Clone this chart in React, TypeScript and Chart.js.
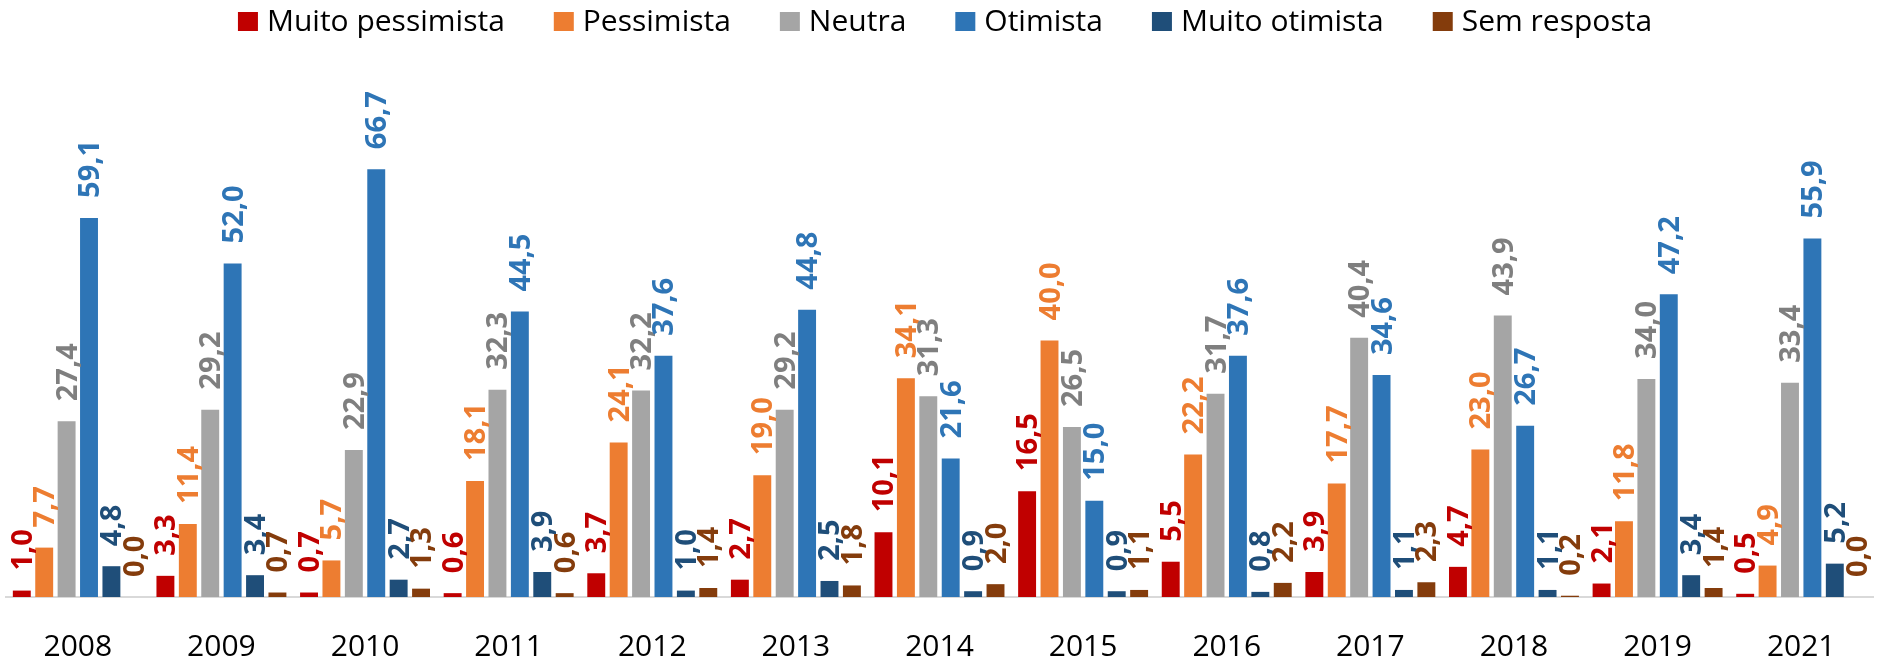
import React, { useEffect, useRef } from "react";
import { Chart, registerables } from "chart.js";

Chart.register(...registerables);

const categories = ["2008", "2009", "2010", "2011", "2012", "2013", "2014", "2015", "2016", "2017", "2018", "2019", "2021"];
const seriesLabels = ["Muito pessimista", "Pessimista", "Neutra", "Otimista", "Muito otimista", "Sem resposta"];
const muitoPessimista = [1.0, 3.3, 0.7, 0.6, 3.7, 2.7, 10.1, 16.5, 5.5, 3.9, 4.7, 2.1, 0.5];
const pessimista = [7.7, 11.4, 5.7, 18.1, 24.1, 19.0, 34.1, 40.0, 22.2, 17.7, 23.0, 11.8, 4.9];
const neutra = [27.4, 29.2, 22.9, 32.3, 32.2, 29.2, 31.3, 26.5, 31.7, 40.4, 43.9, 34.0, 33.4];
const otimista = [59.1, 52.0, 66.7, 44.5, 37.6, 44.8, 21.6, 15.0, 37.6, 34.6, 26.7, 47.2, 55.9];
const muitoOtimista = [4.8, 3.4, 2.7, 3.9, 1.0, 2.5, 0.9, 0.9, 0.8, 1.1, 1.1, 3.4, 5.2];
const semResposta = [0.0, 0.7, 1.3, 0.6, 1.4, 1.8, 2.0, 1.1, 2.2, 2.3, 0.2, 1.4, 0.0];

const barColors = ["#c00000", "#ed7d31", "#a5a5a5", "#2e75b6", "#1f4e79", "#843c0c"];
const labelColors = ["#c00000", "#ed7d31", "#7f7f7f", "#2e75b6", "#1f4e79", "#843c0c"];

const FONT = "'Open Sans', 'Noto Sans', sans-serif";

const valueLabels = {
  id: "valueLabels",
  afterDatasetsDraw(chart: any) {
    const ctx = chart.ctx;
    ctx.save();
    ctx.font = `bold 29px ${FONT}`;
    chart.data.datasets.forEach((ds: any, i: number) => {
      const meta = chart.getDatasetMeta(i);
      meta.data.forEach((el: any, j: number) => {
        const v = ds.data[j] as number;
        const text = v.toFixed(1).replace(".", ",");
        ctx.save();
        ctx.translate(el.x + 10, el.y - 20);
        ctx.rotate(-Math.PI / 2);
        ctx.fillStyle = labelColors[i];
        ctx.textAlign = "left";
        ctx.textBaseline = "alphabetic";
        ctx.fillText(text, 0, 0);
        ctx.restore();
      });
    });
    ctx.restore();
  },
};

const topLegend = {
  id: "topLegend",
  afterDraw(chart: any) {
    const ctx = chart.ctx;
    ctx.save();
    ctx.font = `30px ${FONT}`;
    const items = chart.data.datasets.map((ds: any) => ({
      text: ds.label as string,
      color: ds.backgroundColor as string,
      w: ctx.measureText(ds.label).width,
    }));
    const boxW = 20;
    const boxH = 19;
    const boxGap = 9;
    const itemGap = 49;
    const total =
      items.reduce((s: number, it: any) => s + boxW + boxGap + it.w, 0) + itemGap * (items.length - 1);
    let x = 945 - total / 2;
    ctx.textBaseline = "alphabetic";
    ctx.textAlign = "left";
    items.forEach((it: any) => {
      ctx.fillStyle = it.color;
      ctx.fillRect(x, 12, boxW, boxH);
      ctx.fillStyle = "#000";
      ctx.fillText(it.text, x + boxW + boxGap, 31);
      x += boxW + boxGap + it.w + itemGap;
    });
    ctx.restore();
  },
};

export default function App() {
  const ref = useRef<HTMLCanvasElement | null>(null);

  useEffect(() => {
    document.body.style.margin = "0";
    const canvas = ref.current;
    if (!canvas) return;
    const seriesData = [muitoPessimista, pessimista, neutra, otimista, muitoOtimista, semResposta];
    const chart = new Chart(canvas, {
      type: "bar",
      data: {
        labels: categories,
        datasets: seriesData.map((d, i) => ({
          label: seriesLabels[i],
          data: d,
          backgroundColor: barColors[i],
          borderWidth: 0,
          categoryPercentage: 0.936,
          barPercentage: 0.8,
        })),
      },
      options: {
        animation: false,
        responsive: false,
        maintainAspectRatio: false,
        layout: { padding: { left: 6, right: 7, top: 148, bottom: 0 } },
        plugins: {
          legend: { display: false },
          tooltip: { enabled: false },
        },
        scales: {
          x: {
            grid: { display: false, drawTicks: false },
            border: { display: true, color: "#d9d9d9", width: 2 },
            ticks: {
              color: "#000",
              font: { family: FONT, size: 30 },
              padding: 32,
              maxRotation: 0,
              autoSkip: false,
            },
            afterFit: (s: any) => {
              s.height = 61;
            },
          },
          y: { display: false, min: 0, max: 70 },
        },
      },
      plugins: [valueLabels, topLegend],
    });
    return () => chart.destroy();
  }, []);

  return <canvas ref={ref} width={1880} height={658} style={{ display: "block" }} />;
}
